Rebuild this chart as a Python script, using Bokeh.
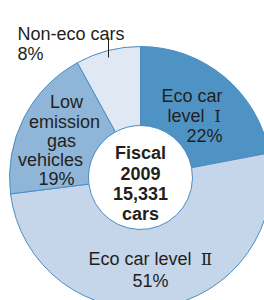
import math
from bokeh.plotting import figure
from bokeh.models import ColumnDataSource, Range1d
from bokeh.core.properties import value
from bokeh.embed import file_html
from bokeh.resources import INLINE

# ---- data ----
categories = ["Eco car level Ⅰ", "Eco car level Ⅱ", "Low emission gas vehicles", "Non-eco cars"]
shares = [22, 51, 19, 8]
colors = ["#4f93c4", "#c5d6ea", "#8fb5d8", "#dfe8f3"]
center_lines = ["Fiscal", "2009", "15,331", "cars"]

# label lines per category
eco1_lines = ["Eco car", "level", "22%"]
eco1_numeral = "Ⅰ"
eco2_text = "Eco car level"
eco2_pct = "51%"
eco2_numeral = "Ⅱ"
low_lines = ["Low", "emission", "gas", "vehicles", "19%"]
non_lines = ["Non-eco cars", "8%"]

W, H = 264, 300
cx, cy = 140, 123
r_out, r_in = 131, 52

p = figure(width=W, height=H, output_backend="svg", toolbar_location=None,
           x_range=Range1d(0, W), y_range=Range1d(0, H), min_border=0)
p.axis.visible = False
p.grid.visible = False
p.outline_line_color = None
p.background_fill_color = "white"

total = sum(shares)
starts, ends = [], []
cum = 0
for s in shares:
    starts.append(math.pi / 2 - 2 * math.pi * cum / total)
    cum += s
    ends.append(math.pi / 2 - 2 * math.pi * cum / total)

src = ColumnDataSource(dict(start=starts, end=ends, color=colors, cat=categories))
p.annular_wedge(x=cx, y=cy, inner_radius=r_in, outer_radius=r_out,
                start_angle="start", end_angle="end", direction="clock",
                fill_color="color", line_color="#4a8cc0", line_width=1, source=src)

TXT = "#231f20"
font = value("Liberation Sans")
serif = value("DejaVu Serif")

def put(lines, xs, ys, align, bold=False, f=font, size="18px"):
    p.text(x=xs, y=ys, text=lines, text_align=align, text_baseline="alphabetic",
           text_font=f, text_font_size=size, text_color=TXT,
           text_font_style="bold" if bold else "normal")

put(eco1_lines, [222, 204, 222], [205, 185, 165], "right")
put([eco1_numeral], [217], [185], "center", f=serif, size="17px")
put(low_lines, [66, 64, 61, 50, 56], [199, 179, 160, 141, 122], "center")
put(non_lines, [17, 17], [267, 247], "left")
put([eco2_text], [88], [42], "left")
put([eco2_numeral], [206], [42], "center", f=serif, size="17px")
put([eco2_pct], [150], [20], "center")
put(center_lines, [cx] * 4, [148, 127, 107, 87], "center", bold=True)

# leader line for Non-eco cars
p.segment(x0=[108], y0=[263], x1=[108], y1=[243], line_color="#231f20", line_width=1)

open("out.html", "w").write(file_html(p, INLINE))
